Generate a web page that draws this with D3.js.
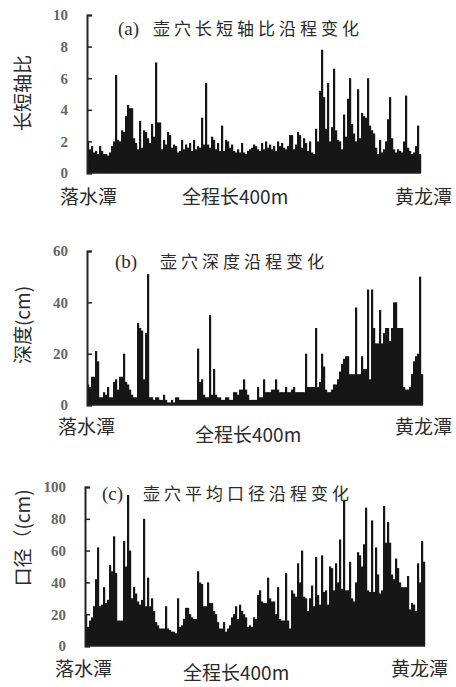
<!DOCTYPE html>
<html>
<head>
<meta charset="utf-8">
<script src="https://cdn.jsdelivr.net/npm/d3@7"></script>
<style>
  body { margin: 0; background: #fff; }
  svg text { fill: #2b2b2b; }
</style>
</head>
<body>
<svg id="chart" width="456" height="687"></svg>
<script>
// 壶穴沿程变化 (a) 长短轴比 (b) 深度 (c) 平均口径

// (a) 长短轴比, 从落水潭到黄龙潭
var ratioValues = [2.0,1.5,1.7,1.3,1.4,1.2,1.7,1.4,1.2,1.2,1.1,1.3,1.7,2.0,6.2,2.1,2.0,2.7,2.6,3.6,
  4.3,4.1,4.1,2.2,1.9,1.5,3.3,1.6,2.7,2.6,2.2,1.9,3.1,2.3,7.0,3.2,3.2,1.5,2.1,1.8,
  2.6,2.4,1.6,1.8,1.7,1.3,1.4,2.1,1.5,1.8,1.6,1.9,1.4,2.1,1.5,1.7,1.6,3.5,1.8,5.7,
  1.8,1.6,2.3,2.1,1.5,1.9,1.4,3.0,1.4,2.1,2.0,1.6,1.8,1.4,1.3,1.5,1.3,1.9,1.3,1.2,
  1.4,1.5,1.6,1.8,1.7,1.5,1.4,1.9,1.5,2.0,1.6,1.8,1.5,1.7,1.4,2.0,1.7,1.9,1.6,1.5,
  1.7,2.4,2.4,1.5,1.8,2.6,2.4,1.6,2.2,1.9,1.4,2.0,1.3,1.2,2.8,2.0,5.2,7.8,4.8,2.8,
  5.7,2.0,2.9,6.6,2.7,2.1,2.0,1.5,3.7,2.3,4.7,6.0,3.1,2.5,2.0,5.3,2.2,3.8,3.6,3.5,
  6.0,3.0,2.7,2.5,1.6,1.2,2.1,1.3,1.5,2.0,3.4,4.8,2.2,1.5,1.3,1.5,1.4,1.3,2.0,4.9,
  1.6,1.4,1.2,1.3,1.7,3.0,1.2];

// (b) 深度 cm
var depthValues = [8,7,11,11,21,17,3,3,5,4,7,3,3,9,10,6,11,11,20,9,
  8,6,4,3,3,32,30,29,10,28,51,3,3,2,3,3,2,2,4,2,
  1,1,2,1,3,3,2,2,2,2,2,2,2,2,2,22,9,10,4,3,
  3,35,4,14,4,3,3,2,2,3,3,2,2,5,5,4,6,6,10,6,
  4,2,2,2,2,7,3,3,10,5,5,5,6,6,10,6,5,5,5,7,
  5,5,6,7,5,5,5,5,5,20,7,7,7,7,30,7,9,20,15,6,
  5,5,6,8,8,10,13,16,18,19,19,12,12,12,38,12,12,19,14,14,
  45,10,45,30,24,24,37,24,28,30,30,25,30,40,40,30,30,30,7,6,
  6,7,12,17,19,20,50,12];

// (c) 平均口径 cm
var diameterValues = [20,12,16,18,25,42,62,25,26,37,27,29,51,47,69,46,16,16,16,66,
  50,95,60,30,37,33,28,26,29,80,25,43,25,30,22,15,13,11,11,11,
  25,11,10,9,9,8,30,12,13,17,24,24,20,18,17,17,47,40,39,25,
  25,40,27,27,22,20,15,11,11,15,9,11,13,18,20,25,17,26,22,20,
  18,12,13,12,18,17,32,35,28,27,27,43,30,28,28,20,37,17,16,16,
  46,16,11,35,33,31,52,40,60,31,30,22,30,38,25,56,32,26,57,34,
  35,26,50,49,35,52,40,67,36,92,35,35,53,30,28,40,59,57,50,64,
  87,35,34,79,34,62,45,33,35,88,65,78,65,45,42,55,49,40,37,37,
  37,44,23,27,26,22,52,40,66,53];

var ratioTicks = [0, 2, 4, 6, 8, 10];
var depthTicks = [0, 20, 40, 60];
var diameterTicks = [0, 20, 40, 60, 80, 100];

var startLabel = "落水潭";
var endLabel = "黄龙潭";
var lengthLabel = "全程长400m";

var svg = d3.select("#chart");
var cjk = "'Noto Sans CJK SC', 'Noto Sans', sans-serif";
var serif = "'Liberation Serif', 'DejaVu Serif', serif";

function drawPanel(p) {
    var g = svg.append("g");

    var x = d3.scaleBand()
        .domain(d3.range(p.values.length))
        .range([p.x0, p.x1])
        .padding(0);

    var y = d3.scaleLinear()
        .domain([0, p.max])
        .range([p.y0, p.y1]);

    // bars
    g.selectAll("rect")
        .data(p.values)
        .enter()
        .append("rect")
        .attr("x", function(d, i) { return x(i); })
        .attr("y", function(d) { return y(d); })
        .attr("width", x.bandwidth() + 0.2)
        .attr("height", function(d) { return p.y0 - y(d); })
        .attr("fill", "#161616");

    // y axis, ticks point inward
    var axis = d3.axisLeft(y)
        .tickValues(p.ticks)
        .tickSizeInner(-5)
        .tickSizeOuter(-5)
        .tickPadding(19);

    var ax = g.append("g")
        .attr("transform", "translate(" + p.x0 + ",0)")
        .call(axis);
    ax.select(".domain").attr("stroke", "#222").attr("stroke-width", 2);
    ax.selectAll(".tick line").attr("stroke", "#222").attr("stroke-width", 1.5);
    ax.selectAll(".tick text")
        .attr("font-family", serif)
        .attr("font-size", "15px")
        .attr("font-weight", "bold")
        .style("fill", "#666");

    // baseline
    g.append("line")
        .attr("x1", p.x0).attr("x2", p.x1)
        .attr("y1", p.y0).attr("y2", p.y0)
        .attr("stroke", "#222").attr("stroke-width", 1.5);

    // y title
    g.append("text")
        .attr("transform", "translate(" + 30 + "," + p.titleY + ") rotate(-90)")
        .attr("text-anchor", "middle")
        .attr("font-family", cjk)
        .attr("font-size", "19px")
        .text(p.yTitle);

    // panel title
    g.append("text")
        .attr("x", p.tagX).attr("y", p.tagY)
        .attr("font-family", serif)
        .attr("font-size", "19px")
        .text(p.tag);
    g.append("text")
        .attr("x", p.headX).attr("y", p.tagY)
        .attr("font-family", cjk)
        .attr("font-size", "17px")
        .attr("letter-spacing", "4px")
        .text(p.head);

    // bottom labels
    g.append("text")
        .attr("x", p.startX).attr("y", p.labelY)
        .attr("font-family", cjk)
        .attr("font-size", "19px")
        .text(startLabel);
    g.append("text")
        .attr("x", p.midX).attr("y", p.midY)
        .attr("font-family", cjk)
        .attr("font-size", "19px")
        .text(lengthLabel);
    g.append("text")
        .attr("x", p.endX).attr("y", p.labelY)
        .attr("text-anchor", "end")
        .attr("font-family", cjk)
        .attr("font-size", "19px")
        .text(endLabel);
}

drawPanel({
    values: ratioValues, ticks: ratioTicks, max: 10,
    x0: 87, x1: 421, y0: 173, y1: 15,
    yTitle: "长短轴比", titleY: 93,
    tag: "(a)", tagX: 118, tagY: 35, head: "壶穴长短轴比沿程变化", headX: 153,
    startX: 60, endX: 452, labelY: 204, midX: 182, midY: 204
});

drawPanel({
    values: depthValues, ticks: depthTicks, max: 60,
    x0: 87, x1: 423, y0: 405, y1: 251,
    yTitle: "深度(cm)", titleY: 325,
    tag: "(b)", tagX: 115, tagY: 268, head: "壶穴深度沿程变化", headX: 160,
    startX: 58, endX: 452, labelY: 434, midX: 195, midY: 442
});

drawPanel({
    values: diameterValues, ticks: diameterTicks, max: 100,
    x0: 85, x1: 425, y0: 646, y1: 487,
    yTitle: "口径（(cm)", titleY: 538,
    tag: "(c)", tagX: 102, tagY: 500, head: "壶穴平均口径沿程变化", headX: 143,
    startX: 55, endX: 448, labelY: 676, midX: 183, midY: 680
});
</script>
</body>
</html>
